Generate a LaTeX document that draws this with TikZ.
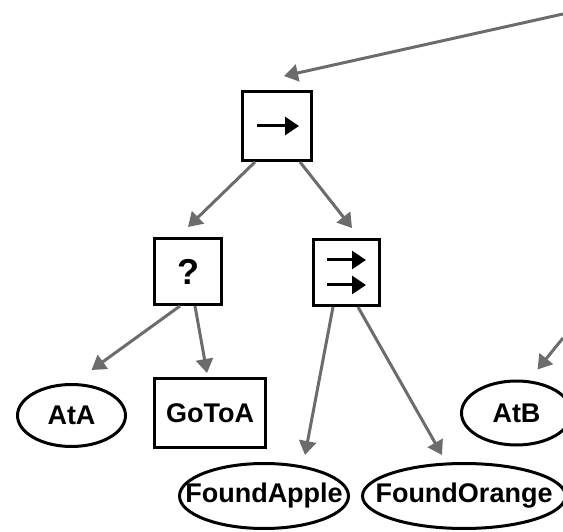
\documentclass[tikz,border=0pt]{standalone}
\usepackage{fontspec}
\setmainfont{Liberation Sans}
\usetikzlibrary{arrows.meta,calc,shapes.geometric}

\tikzset{
  bt/.style={line width=3pt, draw=black, fill=white, inner sep=0pt,
             font=\fontsize{27}{31}\selectfont\bfseries},
  ctrl/.style={bt, rectangle},
  act/.style={bt, rectangle},
  cond/.style={bt, ellipse},
  link/.style={draw={rgb,255:red,108;green,108;blue,108}, line width=3pt,
               -{Triangle[length=14pt,width=17pt]}},
  glyph/.style={draw=black, line width=3pt, -{Triangle[length=14pt,width=18pt]}}
}
% label of fixed-size ellipse: the text takes no width of its own
\newcommand{\lbl}[1]{\makebox[0pt]{#1}}

\begin{document}
\begin{tikzpicture}[x=1pt,y=-1pt]
  \useasboundingbox (0,0) rectangle (563,532);
  \clip (0,0) rectangle (563,532);

  % control nodes
  \node[ctrl, minimum width=69pt, minimum height=69pt] (seq) at (277,126) {};
  \node[ctrl, minimum width=67pt, minimum height=66pt,
        font=\fontsize{36}{40}\selectfont\bfseries] (fb) at (188,271.5) {?};
  \node[ctrl, minimum width=66pt, minimum height=66pt] (par) at (346,272.5) {};

  % leaves
  \node[cond, minimum width=108pt, minimum height=62pt] (ata) at (71.5,415.5) {\lbl{AtA}};
  \node[act,  minimum width=111pt, minimum height=69pt] (goa) at (210,413) {GoToA};
  \node[cond, minimum width=169pt, minimum height=65pt] (fap) at (264,496) {\lbl{FoundApple}};
  \node[cond, minimum width=203pt, minimum height=65pt] (for) at (464,496) {\lbl{FoundOrange}};
  \node[cond, minimum width=110pt, minimum height=64pt] (atb) at (516.5,413) {\lbl{AtB}};

  % symbols inside the control nodes
  \draw[glyph] ($(seq.center)+(-20,0)$) -- ($(seq.center)+(22,0)$);
  \draw[glyph] ($(par.center)+(-19,-12.5)$) -- ($(par.center)+(20,-12.5)$);
  \draw[glyph] ($(par.center)+(-19,12.5)$) -- ($(par.center)+(20,12.5)$);

  % incoming edges from the parent off to the right
  \coordinate (parentA) at (563,14);
  \coordinate (parentB) at (563,338);
  \draw[link] (parentA) -- ($(seq.north)+(7,-14)$);
  \draw[link] (parentB) -- ($(atb.north)+(21,-10)$);

  % tree edges
  \draw[link] ($(seq.south)+(-22,0)$) -- ($(fb.north)+(0,-10)$);
  \draw[link] ($(seq.south)+(23,0)$)  -- ($(par.north)+(6,-10)$);
  \draw[link] ($(fb.south)+(-8,0)$)   -- ($(ata.north)+(20,-13)$);
  \draw[link] ($(fb.south)+(7,0)$)    -- ($(goa.north)+(-3,-4)$);
  \draw[link] ($(par.south)+(-13,0)$) -- ($(fap.north)+(41,-7)$);
  \draw[link] ($(par.south)+(12,0)$)  -- ($(for.north)+(-22,-7)$);
\end{tikzpicture}
\end{document}
